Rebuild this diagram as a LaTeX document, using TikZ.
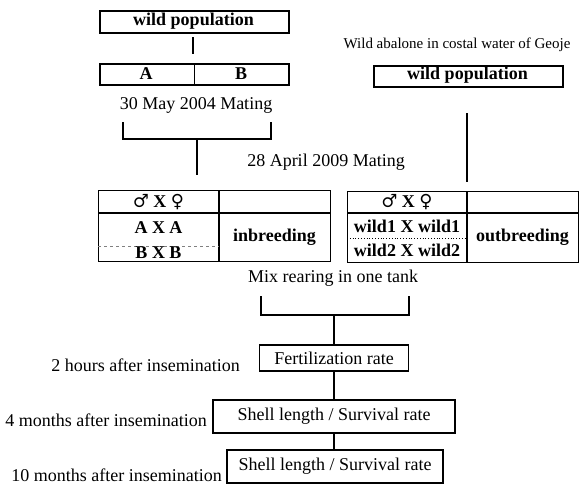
\documentclass[tikz,border=0pt]{standalone}
\usepackage{fontspec}
\setmainfont{Liberation Serif}
\newfontfamily\symfam{DejaVu Serif}
\begin{document}
\begin{tikzpicture}[x=1pt,y=-1pt,
  txt/.style={inner sep=0pt,font=\fontsize{18}{20}\selectfont},
  btxt/.style={inner sep=0pt,font=\fontsize{18}{20}\selectfont\bfseries},
  boxline/.style={draw,line width=1.6pt},
  conn/.style={line width=1.8pt},
  frame/.style={boxline,inner sep=0pt,anchor=north west},
  sexes/.style={inner sep=0pt,font=\fontsize{18}{20}\selectfont}
]
\useasboundingbox (0,0) rectangle (580,488);
% ---- left wild population and A|B
\node[frame,minimum width=189pt,minimum height=22pt,btxt] (wp1) at (99,10) {};
\node[btxt] (wp1t) at (193.5,21) {wild population};
\node[frame,minimum width=189pt,minimum height=21pt] (ab) at (99,63) {};
\node[btxt] (A) at (146,73.5) {A};
\node[btxt] (B) at (241,73.5) {B};
\coordinate (v1a) at (193,37);
\coordinate (v1b) at (193,54);
\draw[conn] (v1a) -- (v1b);
\draw[line width=1.2pt] (ab.north) -- (ab.south);
\node[txt] (m1) at (196,105) {30 May 2004 Mating};
\coordinate (b1l) at (123,122);
\coordinate (b1r) at (271,122);
\coordinate (b1c) at (197,139);
\coordinate (b1e) at (197,175);
\draw[conn] (b1l) -- (b1l |- b1c) -- (b1r |- b1c) -- (b1r);
\draw[conn] (b1c) -- (b1e);
% ---- right wild population
\node[txt,font=\fontsize{15}{17}\selectfont] (geo) at (457,45) {Wild abalone in costal water of Geoje};
\node[frame,minimum width=189pt,minimum height=21pt] (wp2) at (373,65) {};
\node[btxt] (wp2t) at (467.5,75.5) {wild population};
\coordinate (r1) at (467,113);
\coordinate (r2) at (467,182);
\draw[conn] (r1) -- (r2);
\node[txt] (m2) at (326,162) {28 April 2009 Mating};
% ---- inbreeding table
\node[frame,minimum width=232pt,minimum height=71pt,line width=1.4pt] (inb) at (98,190) {};
\coordinate (ih) at (98,213);
\draw[line width=1.4pt] (ih) -- (ih -| inb.east);
\draw[line width=1.4pt] (219,190) -- (219,261);
\draw[dashed,line width=0.5pt,gray] (98,246) -- (219,246);
\node[sexes] (isx) at (158.5,202) {{\symfam ♂} \textbf{X} {\symfam ♀}};
\node[btxt] (iaa) at (158.5,228) {A X A};
\node[btxt] (ibb) at (158.5,253) {B X B};
\node[btxt] (inbt) at (274.5,237) {inbreeding};
% ---- outbreeding table
\node[frame,minimum width=231pt,minimum height=71pt,line width=1.4pt] (outb) at (347,191) {};
\coordinate (oh) at (347,213);
\draw[line width=1.4pt] (oh) -- (oh -| outb.east);
\draw[line width=1.4pt] (467,191) -- (467,262);
\draw[dotted,line width=0.8pt] (347,238) -- (467,238);
\node[sexes] (osx) at (407,202) {{\symfam ♂} \textbf{X} {\symfam ♀}};
\node[btxt] (ow1) at (407,226) {wild1 X wild1};
\node[btxt] (ow2) at (407,250) {wild2 X wild2};
\node[btxt] (outt) at (522.5,237) {outbreeding};
% ---- mix rearing
\node[txt] (mix) at (333,278) {Mix rearing in one tank};
\coordinate (b2l) at (261,296);
\coordinate (b2r) at (409,296);
\coordinate (b2c) at (334,315);
\draw[conn] (b2l) -- (b2l |- b2c) -- (b2r |- b2c) -- (b2r);
% ---- measurement boxes
\node[boxline,txt,minimum width=149pt,minimum height=26pt] (fert) at (334,358) {Fertilization rate};
\node[boxline,txt,minimum width=242pt,minimum height=33pt] (sl4) at (334,416.5) {Shell length / Survival rate};
\node[boxline,txt,minimum width=216pt,minimum height=33pt] (sl10) at (335,466.5) {Shell length / Survival rate};
\draw[conn] (b2c) -- (fert.north);
\draw[conn] (fert.south) -- (sl4.north);
\draw[conn] (sl4.south) -- (sl10.north -| sl4.south);
\node[txt,anchor=east] (l2) at (240,365) {2 hours after insemination};
\node[txt,anchor=east] (l4) at (207,420) {4 months after insemination};
\node[txt,anchor=east] (l10) at (222,475) {10 months after insemination};
\end{tikzpicture}
\end{document}
